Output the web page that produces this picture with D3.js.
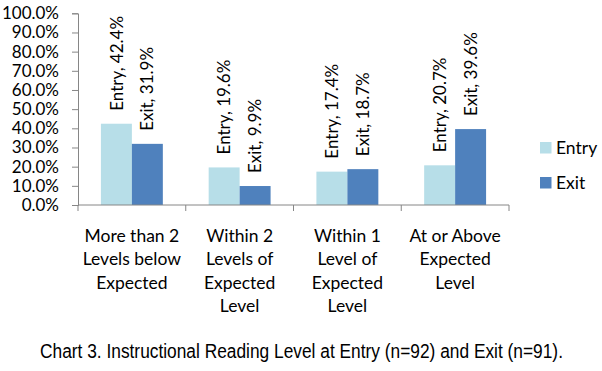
<!DOCTYPE html>
<html lang="en">
<head>
<meta charset="UTF-8">
<title>Chart 3</title>
<script src="https://d3js.org/d3.v7.min.js"></script>
<style>
  body { margin: 0; background: #fff; }
</style>
</head>
<body>
<div id="chart"></div>
<script>
  const width = 602, height = 371;

  // data
  const categories = [
    ["More than 2", "Levels below", "Expected"],
    ["Within 2", "Levels of", "Expected", "Level"],
    ["Within 1", "Level of", "Expected", "Level"],
    ["At or Above", "Expected", "Level"]
  ];
  const series = ["Entry", "Exit"];
  const entryValues = [0.424, 0.196, 0.174, 0.207];
  const exitValues = [0.319, 0.099, 0.187, 0.396];
  const colors = ["#B7DEE8", "#4F81BD"];
  const caption = "Chart 3. Instructional Reading Level at Entry (n=92) and Exit (n=91).";

  const valuesBySeries = [entryValues, exitValues];
  const catKeys = categories.map((c, i) => i);

  const svg = d3.select("#chart").append("svg")
    .attr("width", width)
    .attr("height", height)
    .style("background", "#fff");

  const plot = { left: 78, right: 509, top: 13.3, bottom: 205 };
  const axisColor = "#868686";
  const labelFont = "Lato, 'Open Sans', sans-serif";

  const y = d3.scaleLinear().domain([0, 1]).range([plot.bottom, plot.top]);
  const x0 = d3.scaleBand().domain(catKeys).range([plot.left, plot.right]).padding(0);
  const x1 = d3.scaleBand().domain(series).range([0, x0.bandwidth()]).paddingInner(0).paddingOuter(0.74);

  // y axis
  const yAxis = svg.append("g")
    .attr("transform", `translate(${plot.left},0)`)
    .call(d3.axisLeft(y).tickValues(d3.range(0, 1.0001, 0.1)).tickFormat(d3.format(".1%")).tickSizeOuter(0).tickSize(6).tickPadding(13));
  yAxis.select(".domain").attr("stroke", axisColor);
  yAxis.selectAll(".tick line").attr("stroke", axisColor);
  yAxis.selectAll(".tick text")
    .attr("fill", "#000")
    .style("font-family", labelFont)
    .style("font-size", "17px");

  // bars
  series.forEach((s, si) => {
    svg.append("g").selectAll("rect")
      .data(catKeys)
      .join("rect")
      .attr("x", d => x0(d) + x1(s))
      .attr("y", d => y(valuesBySeries[si][d]))
      .attr("width", x1.bandwidth())
      .attr("height", d => y(0) - y(valuesBySeries[si][d]))
      .attr("fill", colors[si]);

    svg.append("g").selectAll("text")
      .data(catKeys)
      .join("text")
      .attr("transform", d => `translate(${x0(d) + x1(s) + x1.bandwidth() / 2},${y(valuesBySeries[si][d]) - 13}) rotate(-90)`)
      .attr("dy", "0.36em")
      .attr("text-anchor", "start")
      .style("font-family", labelFont)
      .style("font-size", "17px")
      .attr("fill", "#000")
      .text(d => `${s}, ${d3.format(".1%")(valuesBySeries[si][d])}`);
  });

  // x axis
  const xAxis = svg.append("g");
  xAxis.append("line")
    .attr("x1", plot.left).attr("x2", plot.right)
    .attr("y1", y(0)).attr("y2", y(0))
    .attr("stroke", axisColor);
  xAxis.selectAll("line.tick")
    .data(catKeys.concat([categories.length]))
    .join("line")
    .attr("class", "tick")
    .attr("x1", d => d < categories.length ? x0(d) : plot.right)
    .attr("x2", d => d < categories.length ? x0(d) : plot.right)
    .attr("y1", y(0)).attr("y2", y(0) + 6)
    .attr("stroke", axisColor);

  const catLabels = svg.append("g").selectAll("text")
    .data(catKeys)
    .join("text")
    .attr("text-anchor", "middle")
    .style("font-family", labelFont)
    .style("font-size", "17.5px")
    .attr("fill", "#000");
  catLabels.selectAll("tspan")
    .data(d => categories[d].map(line => ({ line, d })))
    .join("tspan")
    .attr("x", o => x0(o.d) + x0.bandwidth() / 2)
    .attr("y", (o, i) => 242 + i * 23.3)
    .text(o => o.line);

  // legend
  const legend = svg.append("g");
  series.forEach((s, i) => {
    legend.append("rect")
      .attr("x", 540).attr("y", 142 + i * 35)
      .attr("width", 11.5).attr("height", 11.5)
      .attr("fill", colors[i]);
    legend.append("text")
      .attr("x", 556).attr("y", 154 + i * 35)
      .style("font-family", labelFont)
      .style("font-size", "17.5px")
      .attr("fill", "#000")
      .text(s);
  });

  // caption: condensed to the reference width
  const cap = svg.append("text")
    .attr("x", 0).attr("y", 0)
    .style("font-family", "'Liberation Sans Narrow', 'Liberation Sans', Arial, sans-serif")
    .style("font-size", "21px")
    .attr("fill", "#000")
    .text(caption);
  const natural = cap.node().getComputedTextLength();
  const k = Math.min(1, 523 / natural);
  cap.attr("transform", `translate(40,358) scale(${k},1)`);
</script>
</body>
</html>
